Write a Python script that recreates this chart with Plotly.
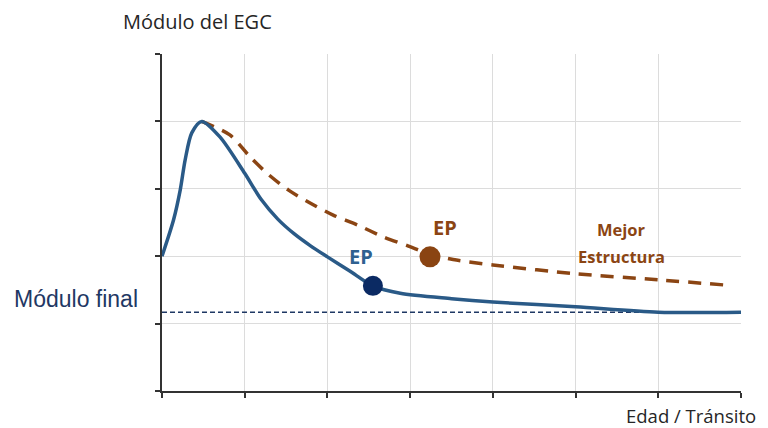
import plotly.graph_objects as go

# Elastic modulus of the EGC over age / transit (arbitrary units)
blue_x = [0, 0.14, 0.22, 0.28, 0.36, 0.48, 0.70, 1.00, 1.20, 1.40, 1.60, 1.80, 2.00, 2.27, 2.55, 2.88, 3.50, 4.00, 5.00, 6.00, 7.00]
blue_y = [2.00, 2.54, 2.98, 3.43, 3.83, 4.00, 3.77, 3.23, 2.84, 2.55, 2.33, 2.15, 1.99, 1.78, 1.56, 1.45, 1.37, 1.32, 1.25, 1.17, 1.17]

brown_x = [0.48, 0.82, 1.06, 1.27, 1.53, 1.79, 2.07, 2.37, 2.67, 2.98, 3.24, 3.52, 4.00, 5.00, 6.00, 6.83]
brown_y = [4.00, 3.80, 3.48, 3.23, 2.98, 2.79, 2.61, 2.46, 2.29, 2.15, 2.03, 1.95, 1.87, 1.74, 1.65, 1.57]

final_modulus = 1.17
ep_blue = (2.55, 1.56)
ep_brown = (3.24, 1.99)

x_ticks = [0, 1, 2, 3, 4, 5, 6, 7]
y_ticks = [0, 1, 2, 3, 4, 5]

BLUE = "#2a5a87"
BROWN = "#8b4513"
NAVY = "#1f3864"

fig = go.Figure()

fig.add_trace(go.Scatter(
    x=[0, 7], y=[final_modulus, final_modulus], mode="lines",
    line=dict(color=NAVY, width=1.5, dash="5px,3px"), hoverinfo="skip"))

fig.add_trace(go.Scatter(
    x=brown_x, y=brown_y, mode="lines",
    line=dict(color=BROWN, width=3.5, dash="13px,9px", shape="spline", smoothing=0.8)))

fig.add_trace(go.Scatter(
    x=blue_x, y=blue_y, mode="lines",
    line=dict(color=BLUE, width=3.5, shape="spline", smoothing=0.8)))

fig.add_trace(go.Scatter(
    x=[ep_blue[0]], y=[ep_blue[1]], mode="markers",
    marker=dict(color="#0b2a63", size=20, line=dict(width=0))))

fig.add_trace(go.Scatter(
    x=[ep_brown[0]], y=[ep_brown[1]], mode="markers",
    marker=dict(color="#8a4412", size=21, line=dict(width=0))))

annotations = [
    dict(text="EP", x=2.41, y=2.0, xref="x", yref="y", showarrow=False,
         font=dict(family="Open Sans", size=20, color="#2f6190", weight="bold")),
    dict(text="EP", x=3.42, y=2.42, xref="x", yref="y", showarrow=False,
         font=dict(family="Open Sans", size=20, color=BROWN, weight="bold")),
    dict(text="Mejor", x=5.56, y=2.39, xref="x", yref="y", showarrow=False,
         font=dict(family="Open Sans", size=16.5, color=BROWN, weight="bold")),
    dict(text="Estructura", x=5.56, y=2.0, xref="x", yref="y", showarrow=False,
         font=dict(family="Open Sans", size=16.5, color=BROWN, weight="bold")),
    dict(text="Módulo del EGC", x=0.0605, y=1.095, xref="paper", yref="paper",
         showarrow=False, xanchor="center", yanchor="middle",
         font=dict(family="Open Sans", size=20, color="#262626")),
    dict(text="Edad / Tránsito", x=0.913, y=-0.072, xref="paper", yref="paper",
         showarrow=False, xanchor="center", yanchor="middle",
         font=dict(family="Open Sans", size=18.5, color="#262626")),
    dict(text="Módulo final", x=-0.1485, y=0.273, xref="paper", yref="paper",
         showarrow=False, xanchor="center", yanchor="middle",
         font=dict(family="Liberation Sans", size=23, color=NAVY)),
]

fig.update_layout(
    width=768, height=428,
    margin=dict(l=162, r=27, t=54, b=37),
    paper_bgcolor="white", plot_bgcolor="white",
    showlegend=False,
    annotations=annotations,
    xaxis=dict(range=[0, 7], tickvals=x_ticks, showticklabels=False,
               ticks="outside", ticklen=5, tickwidth=2, tickcolor="#333333",
               showline=True, linecolor="#333333", linewidth=2,
               showgrid=True, gridcolor="#dcdcdc", gridwidth=1, zeroline=False),
    yaxis=dict(range=[0, 5], tickvals=y_ticks, showticklabels=False,
               ticks="outside", ticklen=5, tickwidth=2, tickcolor="#333333",
               showline=True, linecolor="#333333", linewidth=2,
               showgrid=True, gridcolor="#dcdcdc", gridwidth=1, zeroline=False),
)

fig.write_html("out.html")
